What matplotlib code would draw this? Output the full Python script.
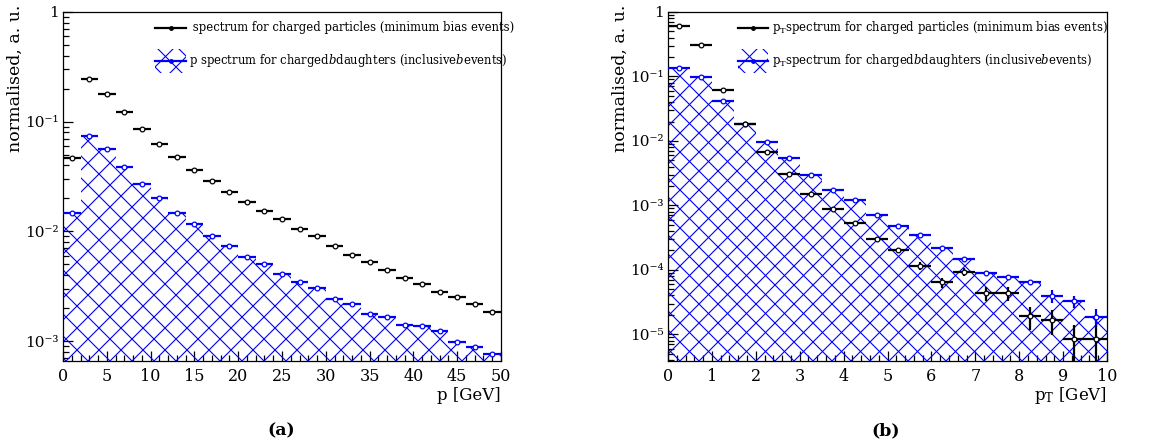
import matplotlib
matplotlib.use('Agg')
import matplotlib.pyplot as plt
import numpy as np
from matplotlib.patches import Polygon
from matplotlib.collections import LineCollection
from matplotlib.ticker import LogLocator, MultipleLocator, FuncFormatter

plt.rcParams['font.family'] = ['DejaVu Serif']
plt.rcParams['mathtext.fontset'] = 'dejavuserif'

# (a) momentum spectra, 2 GeV bins
p_edges = np.arange(0, 52, 2)
p_minbias = [0.047, 0.243, 0.180, 0.122, 0.086, 0.0627, 0.0478, 0.0364, 0.0289, 0.0230,
             0.0185, 0.0153, 0.0130, 0.0106, 0.0090, 0.0074, 0.0061, 0.0053, 0.00449, 0.00377,
             0.00335, 0.00281, 0.00253, 0.00219, 0.00185]
p_bdaughters = [0.0147, 0.0747, 0.0569, 0.0390, 0.0270, 0.0200, 0.0147, 0.01175, 0.0090, 0.0073,
                0.0058, 0.0050, 0.00412, 0.00349, 0.00308, 0.00244, 0.0022, 0.00177, 0.00165, 0.0014,
                0.00139, 0.00123, 0.00098, 0.00088, 0.00077]

# (b) transverse momentum spectra, 0.5 GeV bins
pt_edges = np.arange(0, 10.5, 0.5)
pt_minbias = [0.607, 0.305, 0.0618, 0.0182, 0.00685, 0.00308, 0.00149, 0.00087, 0.00053, 0.000296,
              0.0002, 0.000115, 6.4e-5, 9.3e-5, 4.4e-5, 4.4e-5, 1.91e-5, 1.66e-5, 8.3e-6, 8.3e-6]
pt_minbias_relerr = [0, 0, 0, 0, 0, 0.01, 0.02, 0.03, 0.04, 0.05,
                     0.07, 0.15, 0.18, 0.15, 0.25, 0.25, 0.38, 0.42, 0.65, 0.65]
pt_bdaughters = [0.134, 0.097, 0.0423, 0.0186, 0.0097, 0.0054, 0.00297, 0.00176, 0.0012, 0.00072,
                 0.000476, 0.000341, 0.000217, 0.000148, 9.0e-5, 7.8e-5, 6.4e-5, 3.95e-5, 3.27e-5, 1.87e-5]
pt_bdaughters_relerr = [0, 0, 0, 0, 0, 0, 0.01, 0.01, 0.02, 0.02,
                        0.03, 0.03, 0.04, 0.05, 0.07, 0.08, 0.1, 0.22, 0.22, 0.3]

W, H = 1161, 443
fig = plt.figure(figsize=(W / 100, H / 100), dpi=100)

BLUE = '#0000ff'
SUP = str.maketrans('-0123456789', '\u207b\u2070\u00b9\u00b2\u00b3\u2074\u2075\u2076\u2077\u2078\u2079')


def px_axes(left, top, right, bottom):
    return fig.add_axes([left / W, 1 - bottom / H, (right - left) / W, (bottom - top) / H])


def hatch_lines(ax, clip_patch, spacing, lw=0.8):
    bb = ax.get_position()
    w, h = bb.width * W, bb.height * H
    segs = []
    for c in np.arange(-h - spacing, w + h + spacing, spacing):
        segs.append([(c / w, 0), ((c + h) / w, 1)])
        segs.append([(c / w, 0), ((c - h) / w, 1)])
    lc = LineCollection(segs, colors=BLUE, linewidths=lw, transform=ax.transAxes)
    lc.set_clip_path(clip_patch)
    ax.add_collection(lc, autolim=False)


def hatched_hist(ax, edges, vals, spacing):
    xs, ys = [edges[0]], [1e-12]
    for i, v in enumerate(vals):
        xs += [edges[i], edges[i + 1]]
        ys += [v, v]
    xs.append(edges[-1])
    ys.append(1e-12)
    poly = Polygon(np.column_stack([xs, ys]), closed=True, fill=False,
                   edgecolor='none', transform=ax.transData)
    ax.add_patch(poly)
    hatch_lines(ax, poly, spacing)


def points(ax, edges, vals, relerr, color, z):
    edges = np.asarray(edges)
    vals = np.asarray(vals)
    centers = 0.5 * (edges[:-1] + edges[1:])
    half = 0.5 * (edges[1:] - edges[:-1])
    ax.errorbar(centers, vals, xerr=half, yerr=vals * np.asarray(relerr), fmt='o',
                color=color, ms=3.4, mfc='white', mec=color, mew=0.9,
                elinewidth=1.6, capsize=0, zorder=z)


def legend(ax, x0, x1, xt, labels):
    y1, y2 = 28, 61
    bb = ax.get_position()
    ax_l, ax_t = bb.x0 * W, (1 - bb.y1) * H

    def to_ax(x, y):
        return ((x - ax_l) / (bb.width * W), 1 - (y - ax_t) / (bb.height * H))

    # entry 1: black points
    a0, a1 = to_ax(x0, y1), to_ax(x1, y1)
    ax.plot([a0[0], a1[0]], [a0[1], a1[1]], color='k', lw=1.6, transform=ax.transAxes)
    m = to_ax(0.5 * (x0 + x1), y1)
    ax.plot([m[0]], [m[1]], 'o', ms=2.5, color='k', transform=ax.transAxes)
    t = to_ax(xt, y1)
    ax.text(t[0], t[1], labels[0], transform=ax.transAxes, fontsize=8.4, va='center', ha='left')
    # entry 2: hatched blue
    c0, c1 = to_ax(x0, y2 - 12), to_ax(x1, y2 + 12)
    rect = Polygon([(c0[0], c0[1]), (c1[0], c0[1]), (c1[0], c1[1]), (c0[0], c1[1])], closed=True,
                   fill=False, edgecolor='none', transform=ax.transAxes)
    ax.add_patch(rect)
    hatch_lines(ax, rect, 21)
    b0, b1 = to_ax(x0, y2), to_ax(x1, y2)
    ax.plot([b0[0], b1[0]], [b0[1], b1[1]], color=BLUE, lw=1.6, transform=ax.transAxes)
    m = to_ax(0.5 * (x0 + x1), y2)
    ax.plot([m[0]], [m[1]], 'o', ms=2.5, color=BLUE, transform=ax.transAxes)
    t = to_ax(xt, y2)
    ax.text(t[0], t[1], labels[1], transform=ax.transAxes, fontsize=8.4, va='center', ha='left')


def log_fmt(v, pos):
    e = int(round(np.log10(v)))
    if e == 0:
        return '1'
    return '10' + str(e).translate(SUP)


def style(ax, xmax, xmajor, xminor, ymin):
    ax.set_xlim(0, xmax)
    ax.set_ylim(ymin, 1)
    ax.set_yscale('log')
    ax.xaxis.set_major_locator(MultipleLocator(xmajor))
    ax.xaxis.set_minor_locator(MultipleLocator(xminor))
    ax.yaxis.set_major_locator(LogLocator(base=10))
    ax.yaxis.set_minor_locator(LogLocator(base=10, subs=np.arange(2, 10)))
    ax.yaxis.set_major_formatter(FuncFormatter(log_fmt))
    ax.yaxis.set_minor_formatter(FuncFormatter(lambda v, p: ''))
    ax.tick_params(which='both', direction='in', top=False, right=False, labelsize=11.5, width=0.9)
    ax.tick_params(axis='y', which='major', labelsize=11, pad=3)
    ax.tick_params(which='major', length=7)
    ax.tick_params(axis='x', which='major', pad=5)
    ax.tick_params(which='minor', length=4.5)
    for s in ax.spines.values():
        s.set_linewidth(0.9)


# ---- panel (a)
ax1 = px_axes(63, 12, 501, 361)
style(ax1, 50, 5, 1, 6.6e-4)
hatched_hist(ax1, p_edges, p_bdaughters, 22)
points(ax1, p_edges, p_bdaughters, np.zeros(len(p_bdaughters)), BLUE, 3)
points(ax1, p_edges, p_minbias, np.zeros(len(p_minbias)), 'k', 4)
legend(ax1, 155, 186, 189,
       [' spectrum for charged particles (minimum bias events)',
        r'p spectrum for charged$b$daughters (inclusive$b$events)'])

# ---- panel (b)
ax2 = px_axes(668, 12, 1107, 361)
style(ax2, 10, 1, 0.2, 3.85e-6)
hatched_hist(ax2, pt_edges, pt_bdaughters, 19)
points(ax2, pt_edges, pt_bdaughters, pt_bdaughters_relerr, BLUE, 3)
points(ax2, pt_edges, pt_minbias, pt_minbias_relerr, 'k', 4)
legend(ax2, 738, 768, 772,
       [r'p$_\mathrm{T}$spectrum for charged particles (minimum bias events)',
        r'p$_\mathrm{T}$spectrum for charged$b$daughters (inclusive$b$events)'])

# axis titles and captions
fig.text(15 / W, 1 - 5 / H, 'normalised, a. u.', rotation=90, ha='center', va='top', fontsize=12.5)
fig.text(620 / W, 1 - 5 / H, 'normalised, a. u.', rotation=90, ha='center', va='top', fontsize=12.5)
fig.text(501 / W, 1 - 395 / H, 'p [GeV]', ha='right', va='center', fontsize=12)
fig.text(1107 / W, 1 - 395 / H, r'p$_\mathrm{T}$ [GeV]', ha='right', va='center', fontsize=12)
fig.text(281 / W, 1 - 431 / H, '(a)', ha='center', va='center', fontsize=12.5, fontweight='bold')
fig.text(886 / W, 1 - 431 / H, '(b)', ha='center', va='center', fontsize=12.5, fontweight='bold')

fig.savefig('out.png', dpi=100)
